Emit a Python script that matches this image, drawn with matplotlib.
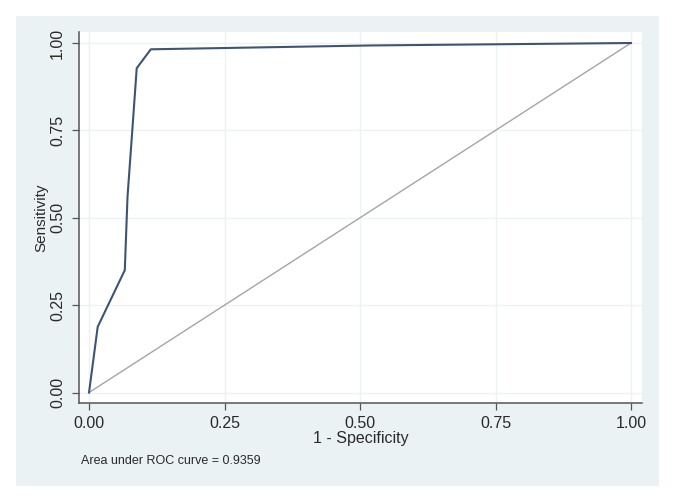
import matplotlib
matplotlib.use('Agg')
import matplotlib.pyplot as plt
from matplotlib.patches import Rectangle

# ROC points
fpr = [0.0, 0.016, 0.066, 0.071, 0.079, 0.088, 0.114, 0.52, 1.0]
tpr = [0.0, 0.188, 0.350, 0.560, 0.732, 0.928, 0.982, 0.993, 1.0]
ref_line = [0.0, 1.0]
ticks = [0.0, 0.25, 0.5, 0.75, 1.0]
tick_labels = ['0.00', '0.25', '0.50', '0.75', '1.00']
auc_note = 'Area under ROC curve = 0.9359'

plt.rcParams['font.family'] = ['Liberation Sans', 'DejaVu Sans']

W, H = 680, 503
fig = plt.figure(figsize=(W / 100, H / 100), dpi=100)
fig.patch.set_facecolor('white')

# light graph region behind the plot (Stata s2color look)
fig.patches.append(Rectangle((16 / W, 1 - 486 / H), (659 - 16) / W, (486 - 16) / H,
                             transform=fig.transFigure, facecolor='#eaf2f3',
                             edgecolor='none', zorder=0))

ax = fig.add_axes([79 / W, 1 - 403 / H, (642 - 79) / W, (403 - 32) / H])
ax.set_facecolor('white')
ax.set_zorder(1)

ax.plot(ref_line, ref_line, color='#a5a5a5', lw=1.0, zorder=2)
ax.plot(fpr, tpr, color='#3f5474', lw=1.5, zorder=3)

ax.set_xlim(-0.0185, 1.0203)
ax.set_ylim(-0.030, 1.0315)

ax.set_xticks(ticks)
ax.set_xticklabels(tick_labels)
ax.set_yticks(ticks)
ax.set_yticklabels(tick_labels, rotation=90, va='center')
ax.grid(True, color='#edf2f3', lw=1.0)
ax.set_axisbelow(True)

for side in ('top', 'right'):
    ax.spines[side].set_visible(False)
for side in ('left', 'bottom'):
    ax.spines[side].set_color('#555555')
    ax.spines[side].set_linewidth(1.1)

ax.tick_params(axis='both', length=5, width=0.9, color='#555555',
               labelsize=11.5, labelcolor='#2a2a2a')
ax.tick_params(axis='x', pad=4)
ax.tick_params(axis='y', pad=5)

ax.set_xlabel('1 - Specificity', fontsize=11.5, color='#2a2a2a', labelpad=0)
ax.set_ylabel('Sensitivity', fontsize=11, color='#2a2a2a', labelpad=1)

fig.text(81 / W, 1 - 464 / H, auc_note, fontsize=9, color='#2a2a2a',
         ha='left', va='baseline')

fig.savefig('out.png', dpi=100, facecolor=fig.get_facecolor())
